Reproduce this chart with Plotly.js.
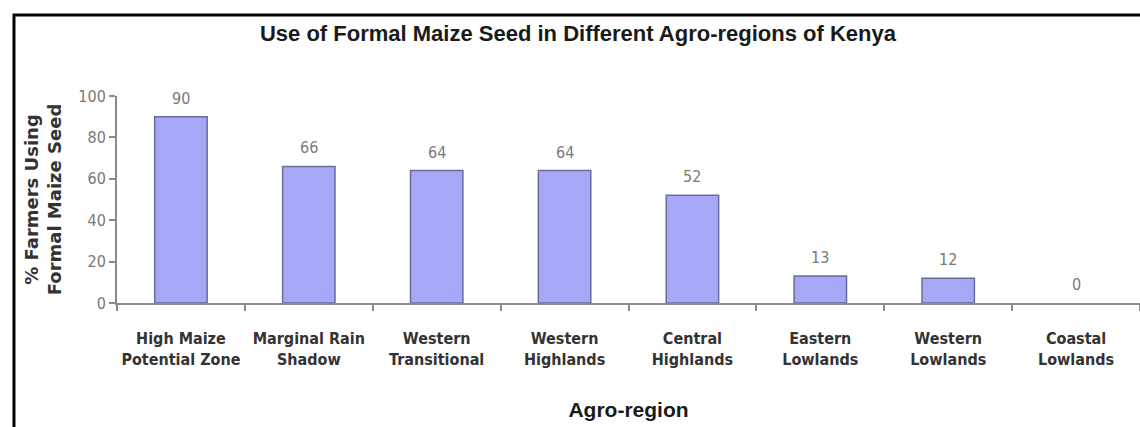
<!DOCTYPE html>
<html>
<head>
<meta charset="utf-8">
<script src="https://cdn.plot.ly/plotly-3.0.1.min.js"></script>
<style>
  html, body { margin: 0; padding: 0; background: #fff; }
  #chart { width: 1140px; height: 427px; }
</style>
</head>
<body>
<div id="chart"></div>
<script>
const regions = [
  "High Maize<br>Potential Zone",
  "Marginal Rain<br>Shadow",
  "Western<br>Transitional",
  "Western<br>Highlands",
  "Central<br>Highlands",
  "Eastern<br>Lowlands",
  "Western<br>Lowlands",
  "Coastal<br>Lowlands"
];
const percentFormalSeed = [90, 66, 64, 64, 52, 13, 12, 0];
const yTickValues = [0, 20, 40, 60, 80, 100];

const trace = {
  type: "bar",
  x: regions,
  y: percentFormalSeed,
  marker: {
    color: "#a7a7f7",
    line: { color: "#6b6b9e", width: percentFormalSeed.map(v => (v === 0 ? 0 : 1.5)) }
  },
  width: 0.41,
  hoverinfo: "x+y"
};

const labels = regions.map((r, i) => ({
  x: r, y: percentFormalSeed[i], xref: "x", yref: "y",
  text: String(percentFormalSeed[i]), showarrow: false,
  yanchor: "bottom", yshift: 7,
  font: { family: "DejaVu Sans Condensed, DejaVu Sans", size: 16, color: "#7a7a7a" }
}));

const layout = {
  width: 1140, height: 427,
  margin: { l: 117, r: 0, t: 96, b: 124 },
  paper_bgcolor: "#ffffff", plot_bgcolor: "#ffffff",
  showlegend: false,
  title: {
    text: "Use of Formal Maize Seed in Different Agro-regions of Kenya",
    font: { family: "Liberation Sans, Arial", size: 22, color: "#1a1a1a", weight: "bold" },
    x: 0.507, xanchor: "center", y: 0.922, yanchor: "middle"
  },
  xaxis: {
    type: "category",
    showline: true, linecolor: "#8a8a8a", linewidth: 2,
    ticks: "outside", tickson: "boundaries", ticklen: 6, tickcolor: "#8a8a8a", tickwidth: 2,
    tickangle: 0,
    tickfont: { family: "DejaVu Sans Condensed, DejaVu Sans", size: 16, color: "#333333", weight: "bold" },
    ticklabelstandoff: 20,
    showgrid: false, zeroline: false,
    title: {
      text: "Agro-region",
      font: { family: "Liberation Sans, Arial", size: 21, color: "#1a1a1a", weight: "bold" },
      standoff: 34
    }
  },
  yaxis: {
    range: [0, 100],
    tickvals: yTickValues,
    showline: true, linecolor: "#8a8a8a", linewidth: 2,
    ticks: "outside", ticklen: 6, tickcolor: "#8a8a8a", tickwidth: 2,
    tickfont: { family: "DejaVu Sans Condensed, DejaVu Sans", size: 16, color: "#777777" },
    showgrid: false, zeroline: false,
    title: {
      text: "% Farmers Using<br>Formal Maize Seed",
      font: { family: "DejaVu Sans, Verdana", size: 18, color: "#333333", weight: "bold" },
      standoff: 12
    }
  },
  annotations: labels,
  shapes: [{
    type: "rect", xref: "paper", yref: "paper",
    x0: -0.1007, x1: 1.2, y0: -1, y1: 1.391,
    line: { color: "#000000", width: 3 }, fillcolor: "rgba(0,0,0,0)", layer: "above"
  }]
};

Plotly.newPlot("chart", [trace], layout, { displayModeBar: false, staticPlot: true });
</script>
</body>
</html>
